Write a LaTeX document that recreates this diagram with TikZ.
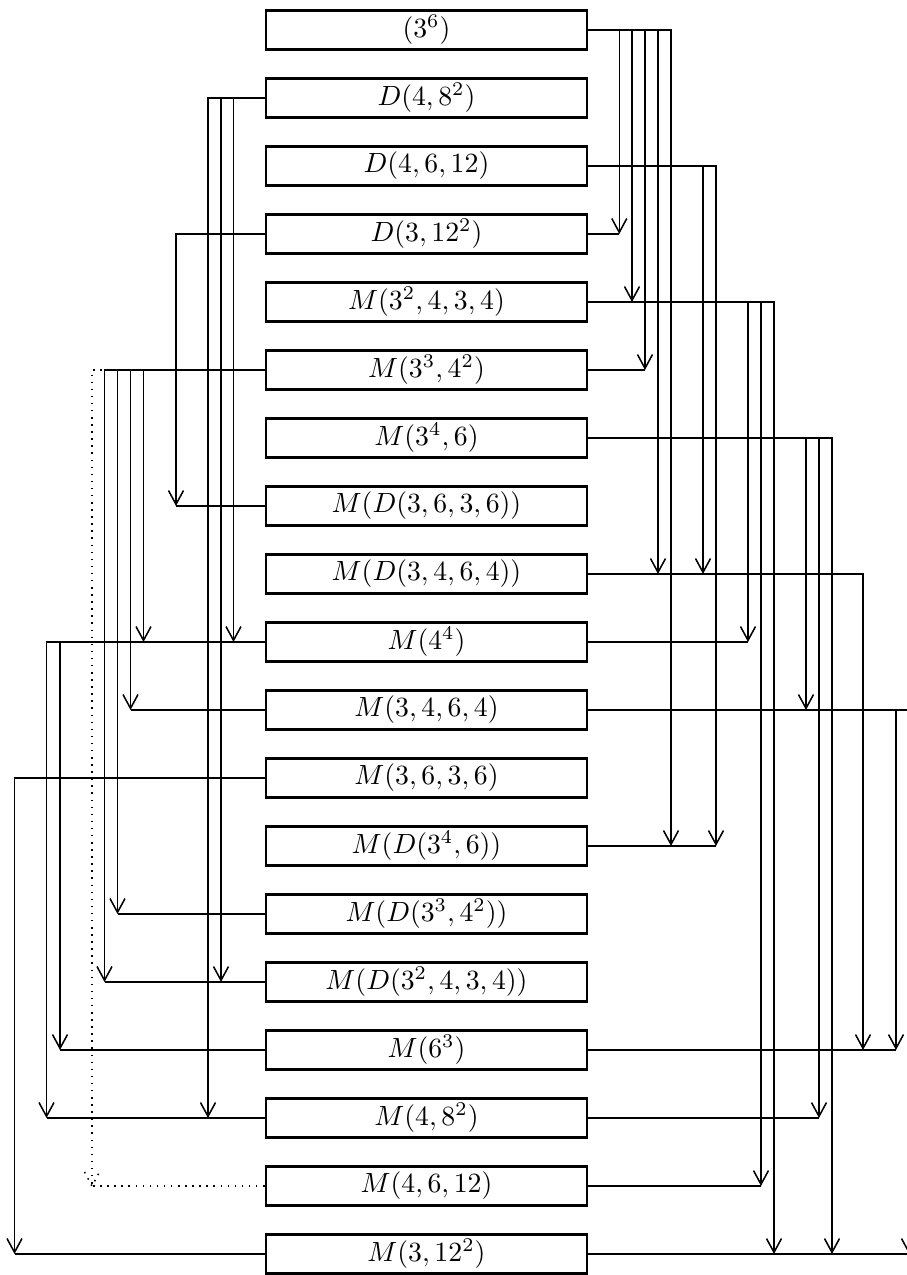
\documentclass[tikz,border=0pt]{standalone}
\usetikzlibrary{arrows.meta}
\newcommand\myR[3]{\draw[arr] (#1.east) -| (#3 |- #2.east); \draw[conn] (#2.east) -- (#3 |- #2.east);}
\newcommand\myL[3]{\draw[arr] (#1.west) -| (#3 |- #2.west); \draw[conn] (#2.west) -- (#3 |- #2.west);}
\begin{document}
\begin{tikzpicture}[x=0.36pt,y=-0.36pt,
  box/.style={draw,line width=1pt,minimum width=115.6pt,minimum height=14.2pt,inner sep=0pt,fill=white},
  conn/.style={line width=0.55pt},
  arr/.style={conn,-{Straight Barb[length=5pt,width=5.4pt]}},
]
\useasboundingbox (0,0) rectangle (907,1275);
\clip (0,0) rectangle (907,1275);
% columns
\coordinate (x619) at (619.3,0);
\coordinate (x632) at (632,0);
\coordinate (x645) at (645,0);
\coordinate (x658) at (658,0);
\coordinate (x671) at (671,0);
\coordinate (x703) at (703,0);
\coordinate (x716) at (716,0);
\coordinate (x748) at (748,0);
\coordinate (x761) at (761,0);
\coordinate (x774) at (774,0);
\coordinate (x806) at (806,0);
\coordinate (x819) at (819,0);
\coordinate (x832) at (832,0);
\coordinate (x863) at (863,0);
\coordinate (x896) at (896,0);
\coordinate (x909) at (909,0);
\coordinate (x14) at (14.5,0);
\coordinate (x46) at (46.5,0);
\coordinate (x60) at (60,0);
\coordinate (x92) at (92,0);
\coordinate (x104) at (104.5,0);
\coordinate (x118) at (117.5,0);
\coordinate (x131) at (130.5,0);
\coordinate (x144) at (143.5,0);
\coordinate (x176) at (176,0);
\coordinate (x208) at (208,0);
\coordinate (x221) at (221,0);
\coordinate (x233) at (233.5,0);
% boxes
\node[box] (r0) at (426.5,30) {$(3^6)$};
\node[box] (r1) at (426.5,98) {$D(4,8^2)$};
\node[box] (r2) at (426.5,166) {$D(4,6,12)$};
\node[box] (r3) at (426.5,234) {$D(3,12^2)$};
\node[box] (r4) at (426.5,302) {$M(3^2,4,3,4)$};
\node[box] (r5) at (426.5,370) {$M(3^3,4^2)$};
\node[box] (r6) at (426.5,438) {$M(3^4,6)$};
\node[box] (r7) at (426.5,506) {$M(D(3,6,3,6))$};
\node[box] (r8) at (426.5,574) {$M(D(3,4,6,4))$};
\node[box] (r9) at (426.5,642) {$M(4^4)$};
\node[box] (r10) at (426.5,710) {$M(3,4,6,4)$};
\node[box] (r11) at (426.5,778) {$M(3,6,3,6)$};
\node[box] (r12) at (426.5,846) {$M(D(3^4,6))$};
\node[box] (r13) at (426.5,914) {$M(D(3^3,4^2))$};
\node[box] (r14) at (426.5,982) {$M(D(3^2,4,3,4))$};
\node[box] (r15) at (426.5,1050) {$M(6^3)$};
\node[box] (r16) at (426.5,1118) {$M(4,8^2)$};
\node[box] (r17) at (426.5,1186) {$M(4,6,12)$};
\node[box] (r18) at (426.5,1254) {$M(3,12^2)$};
% dotted connector
\coordinate (dtip) at (x92 |- r17.west);
\draw[conn,dotted] (r5.west) -| (dtip);
\draw[conn,dotted] (r17.west) -- (dtip);
\draw[conn,dotted] ([shift={(-7.5,-14)}]dtip) -- (dtip) -- ([shift={(7.5,-14)}]dtip);
% right connectors
\myR{r0}{r3}{x619}
\myR{r0}{r4}{x632}
\myR{r0}{r5}{x645}
\myR{r0}{r8}{x658}
\myR{r0}{r12}{x671}
\myR{r2}{r8}{x703}
\myR{r2}{r12}{x716}
\myR{r4}{r9}{x748}
\myR{r4}{r17}{x761}
\myR{r4}{r18}{x774}
\myR{r6}{r10}{x806}
\myR{r6}{r16}{x819}
\myR{r6}{r18}{x832}
\myR{r8}{r15}{x863}
\myR{r10}{r15}{x896}
\myR{r10}{r18}{x909}
% left connectors
\myL{r1}{r16}{x208}
\myL{r1}{r14}{x221}
\myL{r1}{r9}{x233}
\myL{r3}{r7}{x176}
\myL{r5}{r14}{x104}
\myL{r5}{r13}{x118}
\myL{r5}{r10}{x131}
\myL{r5}{r9}{x144}
\myL{r9}{r16}{x46}
\myL{r9}{r15}{x60}
\myL{r11}{r18}{x14}
\end{tikzpicture}
\end{document}
